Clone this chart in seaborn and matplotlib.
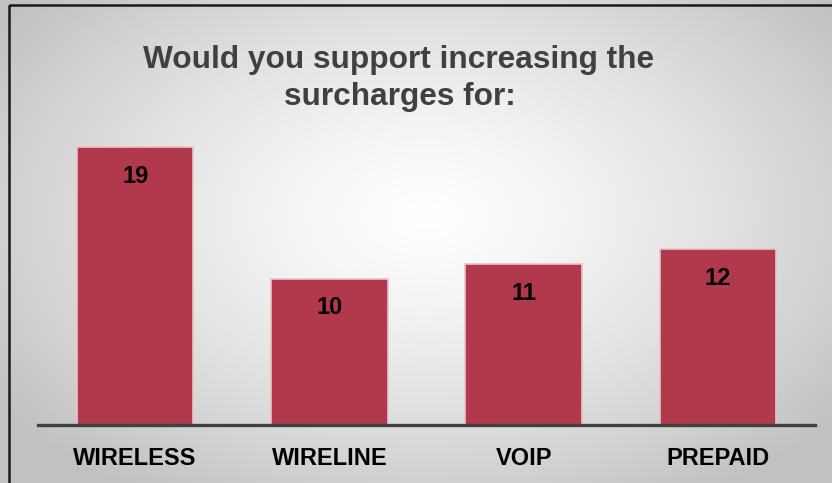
import numpy as np
import pandas as pd
import matplotlib
matplotlib.use("Agg")
import matplotlib.pyplot as plt
import seaborn as sns
from matplotlib.patches import Rectangle

categories = ["WIRELESS", "WIRELINE", "VOIP", "PREPAID"]
values = [19, 10, 11, 12]
title_lines = ["Would you support increasing the", "surcharges for:"]

sns.set_theme(style="white")
plt.rcParams['font.family'] = ['Liberation Sans', 'DejaVu Sans']

W, H = 832, 483
fig = plt.figure(figsize=(W / 100, H / 100), dpi=100)

# radial gradient background
bg = fig.add_axes([0, 0, 1, 1], zorder=-10)
yy, xx = np.mgrid[0:H, 0:W]
cx, cy = 425, 215
d = np.sqrt(((xx - cx) / 520.0) ** 2 + ((yy - cy) / 330.0) ** 2)
d = np.clip(d, 0, 1)
val = 1.0 - 0.24 * d ** 1.3
img = np.dstack([val, val, val])
bg.imshow(img, extent=[0, W, H, 0], aspect='auto', interpolation='bilinear')
bg.set_xlim(0, W)
bg.set_ylim(H, 0)
bg.axis('off')
bg.add_patch(Rectangle((9, 5), W + 20, H + 20, fill=False, edgecolor='#1a1a1a', linewidth=1.8))

# main axes
left, right = 38 / W, 815 / W
bottom, top = (H - 425) / H, (H - 59) / H
ax = fig.add_axes([left, bottom, right - left, top - bottom])
ax.patch.set_alpha(0)

df = pd.DataFrame({"category": categories, "value": values})
sns.barplot(data=df, x="category", y="value", ax=ax, color="#B03A4C",
            saturation=1, width=0.6, edgecolor="#E9C3CB", linewidth=1.2)

ax.set_xlim(-0.5, 3.5)
ax.set_ylim(0, 25)
for s in ["top", "right", "left"]:
    ax.spines[s].set_visible(False)
ax.spines["bottom"].set_color("#404040")
ax.spines["bottom"].set_linewidth(2.4)
ax.set_yticks([])
ax.set_xlabel("")
ax.set_ylabel("")
ax.tick_params(axis='x', length=0, pad=16)
ax.set_xticks(range(len(categories)))
ax.set_xticklabels(categories, fontsize=17, fontweight='bold', color='black')

for i, v in enumerate(values):
    ax.annotate(str(v), xy=(i, v), xytext=(0, -21), textcoords='offset points',
                ha='center', va='center', fontsize=17, fontweight='bold', color='black')

fig.text(399 / W, 1 - 68 / H, title_lines[0], ha='center', va='baseline',
         fontsize=22.8, fontweight='bold', color='#404040')
fig.text(400 / W, 1 - 105 / H, title_lines[1], ha='center', va='baseline',
         fontsize=22.8, fontweight='bold', color='#404040')

fig.savefig("out.png", dpi=100)
